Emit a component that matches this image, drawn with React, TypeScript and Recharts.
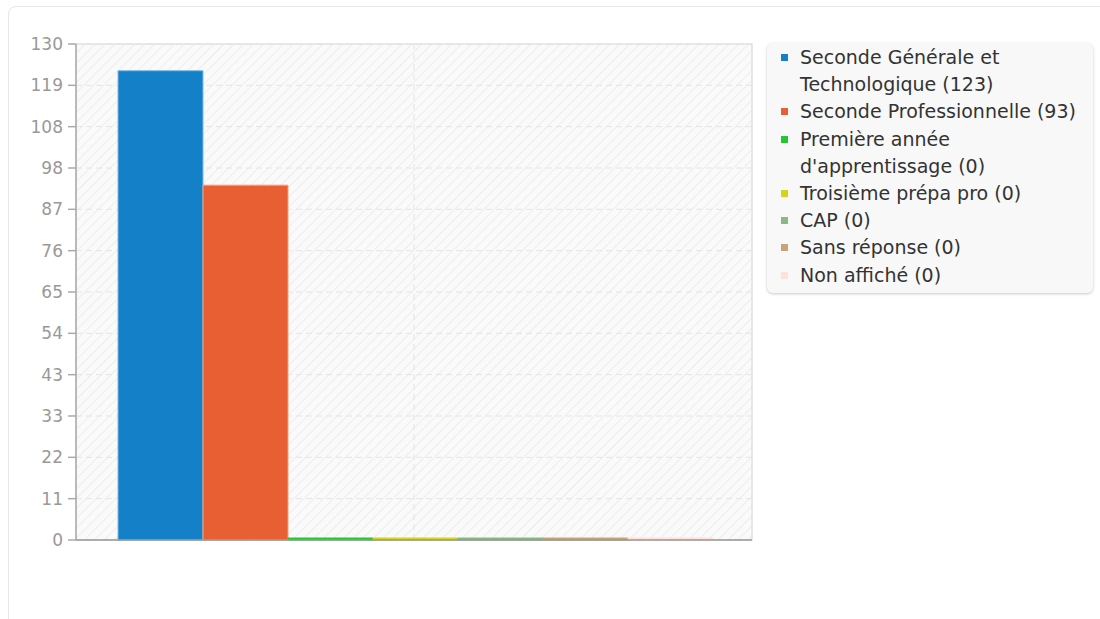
import {
  BarChart,
  Bar,
  XAxis,
  YAxis,
  CartesianGrid,
  Legend,
  ReferenceArea,
} from "recharts";

const categories = ["Niveau"];
const seriesNames = [
  "Seconde Générale et Technologique (123)",
  "Seconde Professionnelle (93)",
  "Première année d'apprentissage (0)",
  "Troisième prépa pro (0)",
  "CAP (0)",
  "Sans réponse (0)",
  "Non affiché (0)",
];
const seriesValues = [123, 93, 0, 0, 0, 0, 0];
const seriesColors = [
  "#1380c8",
  "#e85f33",
  "#22c82c",
  "#d4d418",
  "#86b986",
  "#c8a478",
  "#fce2d8",
];
const seriesStrokes = [
  "#7dbbe6",
  "#f2a285",
  "#22c82c",
  "#d4d418",
  "#86b986",
  "#c8a478",
  "#fce2d8",
];
const yTicks = [
  0, 10.83, 21.67, 32.5, 43.33, 54.17, 65, 75.83, 86.67, 97.5, 108.33, 119.17,
  130,
];

const data = categories.map((c) => {
  const row: any = { name: c };
  seriesValues.forEach((v, i) => {
    row["s" + i] = v;
  });
  return row;
});

const font = "'DejaVu Sans', sans-serif";

function LegendBox() {
  return (
    <div
      style={{
        width: 326,
        boxSizing: "border-box",
        background: "#f8f8f8",
        borderRadius: 6,
        boxShadow: "0 1px 3px rgba(0,0,0,0.22)",
        padding: "1px 8px 4px 14px",
        fontFamily: font,
        fontSize: 19,
        lineHeight: "27.2px",
        color: "#333",
      }}
    >
      {seriesNames.map((n, i) => (
        <div key={n} style={{ display: "flex", alignItems: "flex-start" }}>
          <span
            style={{
              display: "inline-block",
              width: 7,
              height: 7,
              background: seriesColors[i],
              marginTop: 10,
              marginRight: 12,
              flexShrink: 0,
            }}
          />
          <span>{n}</span>
        </div>
      ))}
    </div>
  );
}

export default function App() {
  return (
    <div
      style={{
        position: "absolute",
        left: 0,
        top: 0,
        width: 1100,
        height: 619,
        overflow: "hidden",
        background: "#fff",
      }}
    >
      <svg width="0" height="0" style={{ position: "absolute" }}>
        <defs>
          <pattern
            id="hatch"
            width="7"
            height="7"
            patternUnits="userSpaceOnUse"
            patternTransform="rotate(45)"
          >
            <rect width="7" height="7" fill="#fafafa" />
            <line x1="0" y1="0" x2="0" y2="7" stroke="#ededed" strokeWidth="2" />
          </pattern>
        </defs>
      </svg>
      <div
        style={{
          position: "absolute",
          left: 8,
          top: 6,
          width: 1120,
          height: 640,
          border: "1px solid #e6e6e6",
          borderRadius: 8,
        }}
      />
      <div style={{ position: "absolute", left: 0, top: 0 }}>
        <BarChart
          width={1100}
          height={619}
          data={data}
          margin={{ top: 44, right: 22, bottom: 78, left: 0 }}
          barGap={0}
          barCategoryGap={42}
        >
          <CartesianGrid
            fill="url(#hatch)"
            stroke="#e4e4e4"
            strokeDasharray="6 4"
          />
          <ReferenceArea
            y1={0}
            y2={130}
            fill="none"
            stroke="#e2e2e2"
            strokeWidth={1.5}
          />
          <XAxis
            dataKey="name"
            height={1}
            tickFormatter={() => ""}
            tickLine={false}
            axisLine={{ stroke: "#999", strokeWidth: 1.5 }}
          />
          <YAxis
            width={76}
            domain={[0, 130]}
            ticks={yTicks}
            interval={0}
            tickFormatter={(v: number) => String(Math.round(v))}
            tickSize={8}
            tickMargin={5}
            axisLine={{ stroke: "#aaa", strokeWidth: 1.5 }}
            tickLine={{ stroke: "#aaa", strokeWidth: 1.5 }}
            tick={{ fill: "#999", fontSize: 17, fontFamily: font }}
          />
          <Legend
            layout="vertical"
            align="right"
            verticalAlign="top"
            wrapperStyle={{ top: 43, right: 7, width: 326 }}
            content={LegendBox}
          />
          {seriesNames.map((n, i) => (
            <Bar
              key={n}
              dataKey={"s" + i}
              name={n}
              fill={seriesColors[i]}
              stroke={seriesStrokes[i]}
              strokeWidth={1}
              minPointSize={2}
              isAnimationActive={false}
            />
          ))}
        </BarChart>
      </div>
    </div>
  );
}
